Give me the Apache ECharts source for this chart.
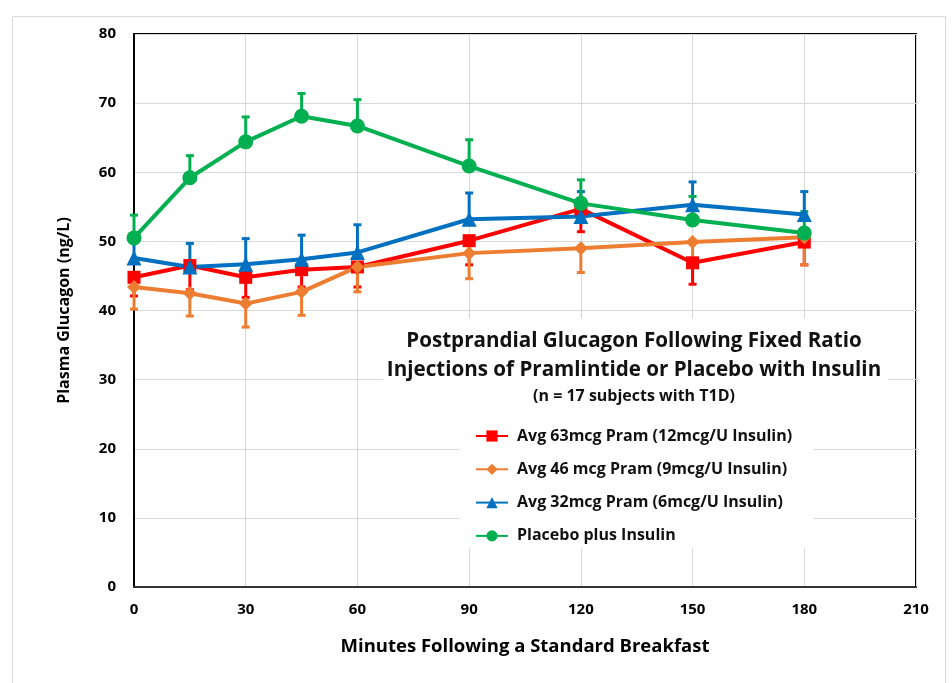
<!DOCTYPE html>
<html>
<head>
<meta charset="utf-8">
<script src="https://cdn.jsdelivr.net/npm/echarts@6/dist/echarts.min.js"></script>
<style>
html,body{margin:0;padding:0;background:#fff;}
#chart{width:952px;height:683px;}
</style>
</head>
<body>
<div id="chart"></div>
<script>
// ---- data ----
const minutes = [0, 15, 30, 45, 60, 90, 120, 150, 180];
const seriesNames = [
  'Avg 63mcg Pram (12mcg/U Insulin)',
  'Avg 46 mcg Pram (9mcg/U Insulin)',
  'Avg 32mcg Pram (6mcg/U Insulin)',
  'Placebo plus Insulin'
];
const pram63 = [44.8, 46.5, 44.8, 45.9, 46.3, 50.1, 54.7, 46.9, 49.9];
const pram63Low = [42.1, 43.0, 41.9, 43.4, 43.4, 46.6, 51.4, 43.8, 46.6];
const pram46 = [43.4, 42.5, 41.0, 42.7, 46.3, 48.3, 49.0, 49.9, 50.6];
const pram46Low = [40.2, 39.2, 37.6, 39.3, 42.7, 44.6, 45.5, 46.5, 46.6];
const pram32 = [47.6, 46.3, 46.7, 47.4, 48.4, 53.2, 53.6, 55.3, 53.9];
const pram32High = [50.8, 49.7, 50.4, 50.9, 52.4, 57.0, 57.2, 58.6, 57.2];
const placebo = [50.5, 59.2, 64.4, 68.1, 66.7, 60.9, 55.5, 53.1, 51.2];
const placeboHigh = [53.8, 62.4, 68.0, 71.4, 70.5, 64.7, 58.9, 56.5, 54.3];
const xTicks = [0, 30, 60, 90, 120, 150, 180, 210];
const yTicks = [0, 10, 20, 30, 40, 50, 60, 70, 80];
const annotTitle = ['Postprandial Glucagon Following Fixed Ratio', 'Injections of Pramlintide or Placebo with Insulin'];
const annotSub = '(n = 17 subjects with T1D)';
const xName = 'Minutes Following a Standard Breakfast';
const yName = 'Plasma Glucagon (ng/L)';

const colors = ['#ff0000', '#ed7d31', '#0070c0', '#00b050'];
const FONT = '"Open Sans"';

function pairs(vals) { return minutes.map((m, i) => [m, vals[i]]); }
function errPairs(a, b) { return minutes.map((m, i) => [m, a[i], b[i]]); }

function errorSeries(data, color) {
  return {
    type: 'custom',
    silent: true,
    data: data,
    encode: { x: 0, y: [1, 2] },
    renderItem: function (params, api) {
      const p1 = api.coord([api.value(0), api.value(1)]);
      const p2 = api.coord([api.value(0), api.value(2)]);
      const capHalf = 4;
      const style = { stroke: color, lineWidth: 3, fill: null };
      return {
        type: 'group',
        children: [
          { type: 'line', shape: { x1: p1[0], y1: p1[1], x2: p2[0], y2: p2[1] }, style: style },
          { type: 'line', shape: { x1: p2[0] - capHalf, y1: p2[1], x2: p2[0] + capHalf, y2: p2[1] }, style: style }
        ]
      };
    }
  };
}

function lineSeries(name, vals, color, symbol, size) {
  return {
    type: 'line',
    name: name,
    data: pairs(vals),
    symbol: symbol,
    symbolSize: size,
    lineStyle: { color: color, width: 4 },
    itemStyle: { color: color },
    emphasis: { disabled: true }
  };
}

const chart = echarts.init(document.getElementById('chart'), null, { renderer: 'canvas' });
chart.setOption({
  backgroundColor: '#ffffff',
  animation: false,
  grid: { left: 134, top: 34, width: 782, height: 553, show: true, borderColor: '#000', borderWidth: 2, backgroundColor: 'transparent' },
  xAxis: {
    type: 'value', min: xTicks[0], max: xTicks[xTicks.length - 1], interval: 30,
    name: xName, nameLocation: 'middle', nameGap: 50,
    nameTextStyle: { fontFamily: FONT, fontWeight: 'bold', fontSize: 18.5, color: '#000' },
    axisLine: { show: true, lineStyle: { color: '#333', width: 2 } },
    axisTick: { show: false },
    axisLabel: { margin: 15, fontFamily: FONT, fontWeight: 'bold', fontSize: 15, color: '#000' },
    splitLine: { show: true, lineStyle: { color: '#d9d9d9', width: 1 } }
  },
  yAxis: {
    type: 'value', min: yTicks[0], max: yTicks[yTicks.length - 1], interval: 10,
    name: yName, nameLocation: 'middle', nameGap: 62, nameRotate: 90,
    nameTextStyle: { fontFamily: FONT, fontWeight: 'bold', fontSize: 16, color: '#000' },
    axisLine: { show: true, lineStyle: { color: '#000', width: 2 } },
    axisTick: { show: false },
    axisLabel: { margin: 18, fontFamily: FONT, fontWeight: 'bold', fontSize: 15, color: '#000' },
    splitLine: { show: true, lineStyle: { color: '#d9d9d9', width: 1 } }
  },
  legend: {
    orient: 'vertical', left: 470, top: 423, itemGap: 17.3, itemWidth: 32, itemHeight: 14,
    data: seriesNames,
    textStyle: { fontFamily: FONT, fontWeight: 'bold', fontSize: 16, color: '#111', padding: [0, 0, 0, 4] },
    selectedMode: false
  },
  graphic: [
    { type: 'rect', left: 10, top: 14, shape: { width: 933, height: 700 }, style: { fill: 'none', stroke: '#d9d9d9', lineWidth: 1 }, z: -10 },
    { type: 'rect', shape: { x: 383, y: 318, width: 505, height: 90 }, style: { fill: '#fff' }, z: 1 },
    { type: 'rect', shape: { x: 460, y: 408, width: 354, height: 140 }, style: { fill: '#fff' }, z: 1 },
    { type: 'text', x: 634, y: 341, z: 2, style: { text: annotTitle[0], fontFamily: FONT, fontWeight: 'bold', fontSize: 20.6, fill: '#111', align: 'center', verticalAlign: 'middle' } },
    { type: 'text', x: 634, y: 370, z: 2, style: { text: annotTitle[1], fontFamily: FONT, fontWeight: 'bold', fontSize: 20.6, fill: '#111', align: 'center', verticalAlign: 'middle' } },
    { type: 'text', x: 634, y: 396, z: 2, style: { text: annotSub, fontFamily: FONT, fontWeight: 'bold', fontSize: 16, fill: '#111', align: 'center', verticalAlign: 'middle' } }
  ],
  series: [
    errorSeries(errPairs(pram63, pram63Low), colors[0]),
    lineSeries(seriesNames[0], pram63, colors[0], 'rect', 13),
    errorSeries(errPairs(pram46, pram46Low), colors[1]),
    lineSeries(seriesNames[1], pram46, colors[1], 'diamond', 14),
    errorSeries(errPairs(pram32, pram32High), colors[2]),
    lineSeries(seriesNames[2], pram32, colors[2], 'triangle', 15),
    errorSeries(errPairs(placebo, placeboHigh), colors[3]),
    lineSeries(seriesNames[3], placebo, colors[3], 'circle', 15)
  ]
});
</script>
</body>
</html>
